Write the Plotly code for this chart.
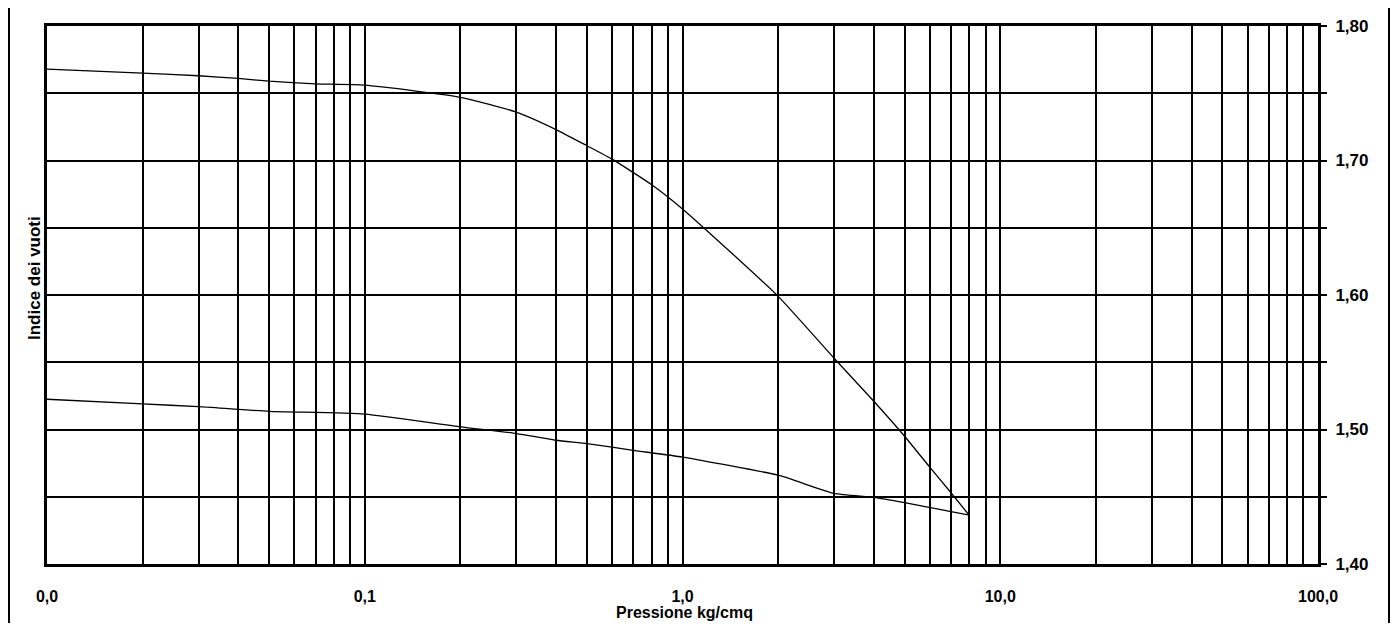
import plotly.graph_objects as go

# Loading curve (upper)
load_x = [0.01, 0.02, 0.03, 0.04, 0.05, 0.07, 0.1, 0.2, 0.3, 0.4, 0.5, 0.6, 0.8, 1.0, 2.0, 3.0, 4.0, 5.0, 6.0, 7.0, 8.0]
load_y = [1.768, 1.765, 1.763, 1.761, 1.759, 1.757, 1.756, 1.747, 1.736, 1.723, 1.711, 1.701, 1.682, 1.664, 1.599, 1.553, 1.521, 1.495, 1.472, 1.453, 1.436]

# Unloading curve (lower)
unload_x = [0.01, 0.02, 0.03, 0.05, 0.1, 0.2, 0.3, 0.4, 0.5, 0.7, 1.0, 2.0, 3.0, 4.0, 5.0, 7.0, 8.0]
unload_y = [1.5225, 1.519, 1.517, 1.5135, 1.5115, 1.502, 1.497, 1.492, 1.4895, 1.4845, 1.4795, 1.466, 1.4525, 1.4495, 1.4456, 1.439, 1.4364]

decades = [0.01, 0.1, 1.0, 10.0, 100.0]
decade_labels = ["0,0", "0,1", "1,0", "10,0", "100,0"]
y_grid = [1.40, 1.45, 1.50, 1.55, 1.60, 1.65, 1.70, 1.75, 1.80]
y_labels = ["1,40", "", "1,50", "", "1,60", "", "1,70", "", "1,80"]

x_vals, x_text = [], []
for d, lab in zip(decades[:-1], decade_labels[:-1]):
    for m in range(1, 10):
        x_vals.append(d * m)
        x_text.append(lab if m == 1 else "")
x_vals.append(decades[-1])
x_text.append(decade_labels[-1])

fig = go.Figure()
fig.add_trace(go.Scatter(x=load_x, y=load_y, mode="lines",
                         line=dict(color="black", width=1.3, shape="spline", smoothing=0.5), showlegend=False))
fig.add_trace(go.Scatter(x=unload_x, y=unload_y, mode="lines",
                         line=dict(color="black", width=1.3, shape="spline", smoothing=0.5), showlegend=False))

# page body has an 8px margin; size the figure so it fits the 1399x631 viewport without scrolling
OFF = 8
W, H = 1399 - 2 * OFF, 631 - 2 * OFF
L, T = 47 - OFF, 26 - OFF
R = W - (1318 - OFF)
B = H - (564 - OFF)
pw = W - L - R
ph = H - T - B
FS = 17


def px_x(v):
    return (v - OFF - L) / pw


def px_y(v):
    return (H - B - (v - OFF)) / ph


fig.update_layout(
    width=W, height=H,
    margin=dict(l=L, r=R, t=T, b=B, autoexpand=False),
    paper_bgcolor="white", plot_bgcolor="white",
    font=dict(family="Liberation Sans, Arial", color="black", size=FS),
    xaxis=dict(
        type="log", range=[-2, 2], automargin=False,
        tickvals=x_vals, ticktext=x_text,
        showgrid=True, gridcolor="black", gridwidth=1.6,
        ticks="", ticklabelstandoff=16,
        tickfont=dict(size=16, weight="bold"),
        showline=True, linecolor="black", linewidth=3, mirror=True,
        zeroline=False,
    ),
    yaxis=dict(
        range=[1.40, 1.80], side="right", automargin=False,
        tickvals=y_grid, ticktext=y_labels,
        showgrid=True, gridcolor="black", gridwidth=1.6,
        ticks="outside", ticklen=6, tickwidth=1.5, tickcolor="black",
        ticklabelstandoff=5,
        tickfont=dict(size=FS, weight="bold"),
        showline=True, linecolor="black", linewidth=3, mirror=True,
        zeroline=False,
    ),
    annotations=[
        dict(text="Indice dei vuoti", textangle=-90, xref="paper", yref="paper",
             x=px_x(34), y=px_y(278), showarrow=False,
             font=dict(size=FS, weight="bold"), xanchor="center", yanchor="middle"),
        dict(text="Pressione kg/cmq", xref="paper", yref="paper",
             x=px_x(684), y=px_y(612), showarrow=False,
             font=dict(size=16, weight="bold"), xanchor="center", yanchor="middle"),
    ],
    shapes=[
        dict(type="line", xref="paper", yref="paper", x0=px_x(9), x1=px_x(9),
             y0=px_y(623), y1=px_y(OFF), line=dict(color="black", width=2)),
        dict(type="line", xref="paper", yref="paper", x0=px_x(1389), x1=px_x(1389),
             y0=px_y(623), y1=px_y(OFF), line=dict(color="black", width=2)),
    ],
)

fig.write_html("out.html")
